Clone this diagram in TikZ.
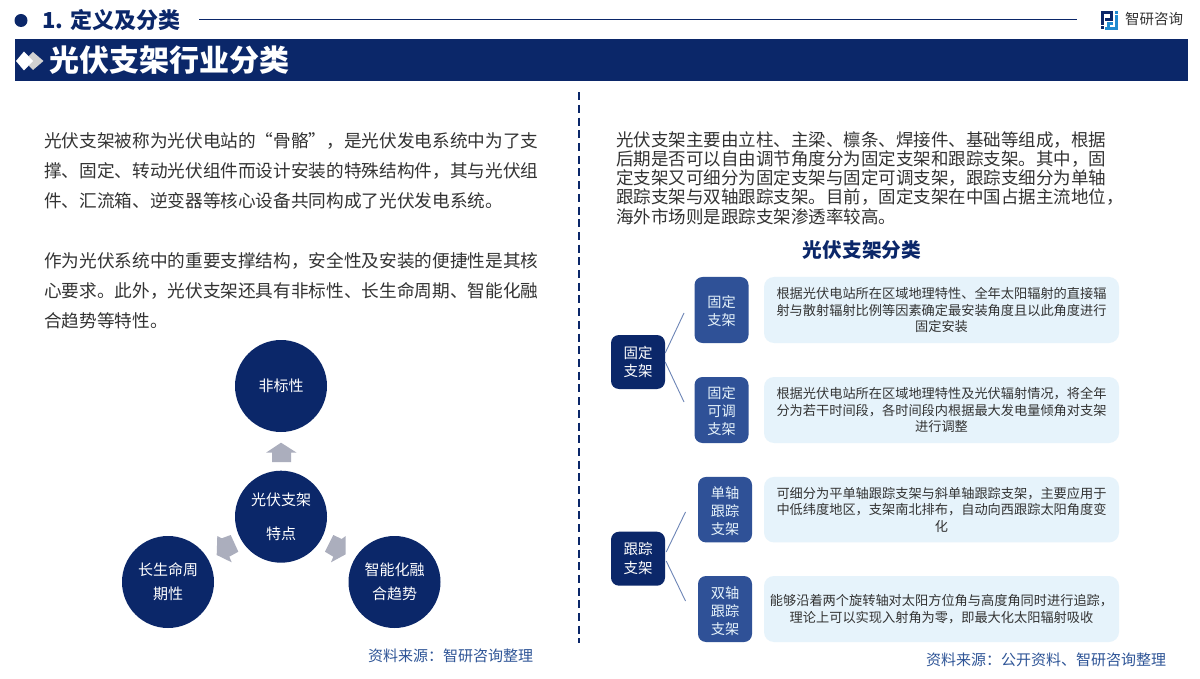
\documentclass[tikz,border=0pt]{standalone}
\usepackage{fontspec}
\setmainfont{Noto Sans CJK SC}
\definecolor{navy}{HTML}{0B2769}
\definecolor{midblue}{HTML}{2F5197}
\definecolor{paleblue}{HTML}{E6F3FB}
\definecolor{bodygrey}{HTML}{333333}
\definecolor{arrowgrey}{HTML}{ABAEBD}
\definecolor{srcblue}{HTML}{2F5597}
\definecolor{logoblue}{HTML}{1F8AD0}
\newcommand{\fs}[2]{\fontsize{#1}{#2}\selectfont}
\tikzset{
 circ/.style={circle,fill=navy,minimum size=92pt,inner sep=0pt,text=white,align=center},
 dark/.style={rounded corners=8pt,fill=navy,minimum width=54pt,minimum height=54pt,inner sep=0pt,text=white,align=center,font=\fs{14.5}{18.5}},
 sub/.style={rounded corners=8pt,fill=midblue,minimum width=54pt,inner sep=0pt},
 subtext/.style={inner sep=0pt,text=paleblue,align=center,font=\fs{14.2}{18}},
 pale/.style={rounded corners=10pt,fill=paleblue,minimum width=355pt,inner sep=0pt,text=bodygrey,align=center,font=\fs{13.2}{16.4}},
 para/.style={inner sep=0pt,anchor=north west,text=bodygrey,align=left},
 link/.style={draw=midblue!70,line width=0.9pt},
 garrow/.style={fill=arrowgrey},
 src/.style={inner sep=0pt,text=srcblue,font=\fs{15}{17}}
}
\begin{document}
\begin{tikzpicture}[x=1pt,y=-1pt]
\useasboundingbox (0,0) rectangle (1200,679);
\fill[white] (0,0) rectangle (1200,679);
% header
\fill[navy] (21,20.5) circle (6.5);
\node[inner sep=0pt,anchor=west,text=navy,font=\bfseries\fs{22}{26}] (head) at (42,20.5) {1. 定义及分类};
\coordinate (ruleA) at (199,19.5);
\coordinate (ruleB) at (1077,19.5);
\draw[navy,line width=1pt] (ruleA) -- (ruleB);
% logo
\fill[navy] (1101,11.5) rectangle (1113,14.5);
\fill[navy] (1110,11.5) rectangle (1113,21);
\fill[navy] (1105,18) rectangle (1113,21);
\fill[navy] (1101,11.5) rectangle (1104,25);
\fill[navy] (1101,26.5) rectangle (1104,29.5);
\fill[logoblue] (1115,11.5) rectangle (1118,14);
\fill[logoblue] (1115,15.5) rectangle (1118,30);
\fill[logoblue] (1105,27) rectangle (1118,30);
\fill[logoblue] (1107,22.5) rectangle (1113,25);
\fill[logoblue] (1107,22.5) rectangle (1110,30);
\node[inner sep=0pt,anchor=west,text=black!80,font=\fs{14.5}{16}] (brand) at (1125,19.5) {智研咨询};
% banner
\fill[navy] (14.5,39) rectangle (1187.5,81.5);
\fill[black!18] (33,52) -- (43.5,61) -- (33,70) -- (24,61) -- cycle;
\fill[white] (24,51.5) -- (33,61) -- (24,70.5) -- (16,61) -- cycle;
\node[inner sep=0pt,anchor=west,text=white,font=\bfseries\fs{30}{34}] (title) at (49,60) {光伏支架行业分类};
% divider
\coordinate (divA) at (579,92.3);
\coordinate (divB) at (579,643);
\draw[navy,line width=1.8pt,dash pattern=on 8pt off 4.7pt] (divA) -- (divB);
% left text
\node[para,font=\fs{17.65}{30.2}] (p1) at (44,132) {光伏支架被称为光伏电站的“骨骼”，是光伏发电系统中为了支\\撑、固定、转动光伏组件而设计安装的特殊结构件，其与光伏组\\件、汇流箱、逆变器等核心设备共同构成了光伏发电系统。};
\node[para,font=\fs{17.65}{30.2}] (p2) at (44,252) {作为光伏系统中的重要支撑结构，安全性及安装的便捷性是其核\\心要求。此外，光伏支架还具有非标性、长生命周期、智能化融\\合趋势等特性。};
% circles
\node[circ,font=\fs{15}{20}] (c1) at (281,386) {非标性};
\node[circ,font=\fs{15}{33.5}] (c0) at (281,516.7) {光伏支架\\特点};
\node[circ,font=\fs{15}{24}] (c2) at (168,582) {长生命周\\期性};
\node[circ,font=\fs{15}{24}] (c3) at (394.5,582) {智能化融\\合趋势};
\fill[garrow] (281,442.7) -- (296.7,452.7) -- (291,452.7) -- (291,462) -- (272,462) -- (272,452.7) -- (266,452.7) -- cycle;
\fill[garrow] (217.3,536) -- (221.7,538.3) -- (230.7,535) -- (238.3,551.7) -- (229.3,556.7) -- (231.7,562.3) -- (216.7,555) -- cycle;
\fill[garrow] (345.7,536) -- (341.7,539) -- (333.3,535) -- (325,551.7) -- (333.3,556.7) -- (331,562.3) -- (345.7,554.3) -- cycle;
% right text
\node[para,font=\fs{17.5}{19.3}] (p3) at (616,131) {光伏支架主要由立柱、主梁、檩条、焊接件、基础等组成，根据\\后期是否可以自由调节角度分为固定支架和跟踪支架。其中，固\\定支架又可细分为固定支架与固定可调支架，跟踪支细分为单轴\\跟踪支架与双轴跟踪支架。目前，固定支架在中国占据主流地位，\\海外市场则是跟踪支架渗透率较高。};
\node[inner sep=0pt,text=navy,font=\bfseries\fs{19.7}{23}] (ptitle) at (862,250.5) {光伏支架分类};
% tree
\node[dark] (f) at (638,362) {固定\\支架};
\node[sub,minimum height=66pt] (f1) at (721.5,310) {};
\node[subtext] (f1l) at (721.5,311.5) {固定\\支架};
\node[sub,minimum height=66pt] (f2) at (721.5,410) {};
\node[subtext] (f2l) at (721.5,411.5) {固定\\可调\\支架};
\node[pale,minimum height=66pt] (f1t) at (941.5,310) {根据光伏电站所在区域地理特性、全年太阳辐射的直接辐\\射与散射辐射比例等因素确定最安装角度且以此角度进行\\固定安装};
\node[pale,minimum height=66pt] (f2t) at (941.5,410) {根据光伏电站所在区域地理特性及光伏辐射情况，将全年\\分为若干时间段，各时间段内根据最大发电量倾角对支架\\进行调整};
\node[dark] (t) at (638,558.7) {跟踪\\支架};
\node[sub,minimum height=65.5pt] (t1) at (725,509.7) {};
\node[subtext] (t1l) at (725,511.5) {单轴\\跟踪\\支架};
\node[sub,minimum height=66pt] (t2) at (725,609) {};
\node[subtext] (t2l) at (725,611.5) {双轴\\跟踪\\支架};
\node[pale,minimum height=65.5pt] (t1t) at (941.5,509.7) {可细分为平单轴跟踪支架与斜单轴跟踪支架，主要应用于\\中低纬度地区，支架南北排布，自动向西跟踪太阳角度变\\化};
\node[pale,minimum height=66pt] (t2t) at (941.5,609) {能够沿着两个旋转轴对太阳方位角与高度角同时进行追踪，\\理论上可以实现入射角为零，即最大化太阳辐射吸收};
\coordinate (fa) at (684,313);
\coordinate (fb) at (684,402);
\coordinate (ta) at (685.5,512);
\coordinate (tb) at (685.5,601);
\draw[link] (f.east |- 0,353) -- (fa);
\draw[link] (f.east |- 0,362) -- (fb);
\draw[link] ([xshift=1pt]t.east |- 0,552) -- (ta);
\draw[link] ([xshift=1pt]t.east |- 0,561) -- (tb);
% sources
\node[src] (s1) at (450.5,656) {资料来源：智研咨询整理};
\node[src] (s2) at (1046,660) {资料来源：公开资料、智研咨询整理};
\end{tikzpicture}
\end{document}
